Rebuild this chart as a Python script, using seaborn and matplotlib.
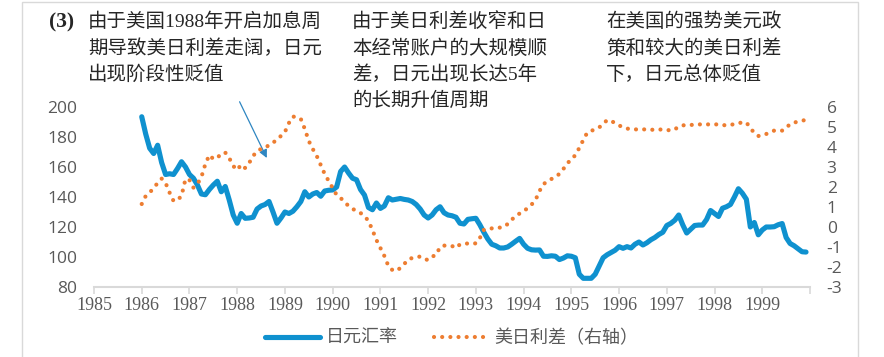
import numpy as np
import pandas as pd
import matplotlib
matplotlib.use("Agg")
import matplotlib.pyplot as plt
import matplotlib.patches as mpatches
from matplotlib.lines import Line2D
import seaborn as sns

# ---------------- data ----------------
start_year = 1986  # monthly data, Jan 1986 .. Dec 1999
jpy_rate = [
    193.5, 182.0, 172.5, 169.0, 174.5, 163.0, 155.0, 155.5, 155.0, 159.0, 163.5, 160.0,   # 1986
    155.0, 152.5, 148.0, 142.0, 141.5, 145.0, 148.0, 150.5, 143.5, 147.0, 138.0, 128.0,   # 1987
    122.5, 129.0, 125.8, 126.0, 126.5, 132.0, 134.0, 135.0, 137.0, 130.0, 122.5, 126.0,   # 1988
    130.0, 129.0, 130.5, 133.5, 137.0, 143.5, 140.0, 142.0, 143.0, 140.5, 144.0, 144.5,   # 1989
    144.7, 146.7, 157.0, 160.0, 156.0, 152.5, 151.5, 145.0, 141.3, 133.0, 131.5, 136.0,   # 1990
    132.4, 134.0, 139.5, 138.0, 138.5, 139.0, 138.4, 138.0, 137.0, 135.0, 132.0, 128.0,   # 1991
    126.0, 128.0, 131.5, 133.5, 129.5, 128.0, 127.5, 126.5, 122.5, 122.0, 125.1, 125.5,   # 1992
    125.8, 121.5, 116.5, 112.0, 108.5, 107.5, 106.0, 106.0, 106.7, 108.5, 110.5, 112.4,   # 1993
    108.5, 105.8, 104.8, 104.6, 104.7, 100.5, 100.4, 100.8, 100.5, 98.3, 99.3, 100.8,     # 1994
    100.5, 99.5, 88.5, 85.8, 85.8, 85.8, 88.5, 94.0, 99.5, 101.5, 103.0, 104.5,           # 1995
    106.9, 105.8, 106.9, 106.0, 108.5, 110.0, 108.0, 109.5, 111.5, 113.0, 115.0, 116.5,   # 1996
    121.0, 122.4, 124.5, 128.0, 121.5, 116.0, 118.5, 121.0, 121.3, 121.3, 125.0, 131.0,   # 1997
    129.0, 127.0, 132.5, 133.5, 135.0, 140.0, 145.5, 142.5, 138.5, 120.0, 123.0, 114.8,   # 1998
    118.0, 120.0, 120.0, 120.2, 121.5, 122.3, 113.0, 109.0, 107.5, 105.5, 103.5, 103.3,   # 1999
]
us_jp_spread = [
    1.15, 1.55, 1.72, 1.95, 2.20, 2.42, 2.20, 1.72, 1.30, 1.35, 1.55, 2.40,   # 1986
    2.35, 1.97, 2.15, 2.50, 3.15, 3.60, 3.40, 3.45, 3.68, 3.72, 3.45, 3.05,   # 1987
    2.85, 3.12, 2.95, 3.20, 3.55, 3.80, 3.90, 3.95, 4.10, 4.20, 4.40, 4.55,   # 1988
    4.75, 5.20, 5.52, 5.50, 5.40, 4.90, 4.30, 3.90, 3.55, 3.10, 2.65, 2.30,   # 1989
    1.95, 1.60, 1.45, 1.25, 1.05, 0.90, 0.82, 0.70, 0.55, 0.30, -0.15, -0.65, # 1990
    -1.05, -1.45, -1.95, -2.15, -2.20, -2.05, -1.85, -1.62, -1.55, -1.50, -1.48, -1.60,  # 1991
    -1.65, -1.48, -1.40, -1.00, -0.93, -0.93, -0.95, -1.05, -0.87, -0.85, -0.82, -0.82,  # 1992
    -0.82, -0.55, -0.15, -0.07, -0.07, -0.07, -0.03, 0.00, 0.15, 0.38, 0.50, 0.68,       # 1993
    0.78, 0.95, 1.12, 1.35, 1.80, 2.15, 2.27, 2.40, 2.52, 2.65, 2.90, 3.20,   # 1994
    3.35, 3.60, 3.95, 4.35, 4.72, 4.80, 4.90, 4.98, 5.15, 5.35, 5.30, 5.20,   # 1995
    5.08, 4.98, 4.92, 4.90, 4.88, 4.88, 4.88, 4.88, 4.87, 4.85, 4.87, 4.88,   # 1996
    4.86, 4.82, 4.88, 5.02, 5.08, 5.10, 5.10, 5.12, 5.13, 5.13, 5.13, 5.13,   # 1997
    5.13, 5.13, 5.10, 5.08, 5.10, 5.15, 5.20, 5.22, 5.23, 4.95, 4.70, 4.55,   # 1998
    4.58, 4.65, 4.75, 4.82, 4.82, 4.82, 4.95, 5.15, 5.22, 5.27, 5.32, 5.35,   # 1999
]
year_ticks = list(range(1985, 2001))
year_labels = [str(y) for y in range(1985, 2000)] + [""]
left_ticks = [80, 100, 120, 140, 160, 180, 200]
right_ticks = [-3, -2, -1, 0, 1, 2, 3, 4, 5, 6]
series_names = ["日元汇率", "美日利差（右轴）"]
notes = [
    ["由于美国1988年开启加息周", "期导致美日利差走阔，日元", "出现阶段性贬值"],
    ["由于美日利差收窄和日", "本经常账户的大规模顺", "差，日元出现长达5年", "的长期升值周期"],
    ["在美国的强势美元政", "策和较大的美日利差", "下，日元总体贬值"],
]

# ---------------- style ----------------
BLUE = "#0F91CF"
ORANGE = "#ED7D31"
GRAY = "#595959"
LIGHT = "#D9D9D9"

sns.set_theme(style="white")
plt.rcParams["font.family"] = ["Liberation Serif", "Noto Sans CJK SC", "DejaVu Sans"]

W, H = 884, 357
fig = plt.figure(figsize=(W / 100, H / 100), dpi=100)
ax = fig.add_axes([94 / W, 1 - 287 / H, (810 - 94) / W, 180 / H])
ax2 = ax.twinx()

t = start_year + np.arange(len(jpy_rate)) / 12.0
df = pd.DataFrame({"t": t, "jpy": jpy_rate, "spread": us_jp_spread})

sns.lineplot(data=df, x="t", y="jpy", ax=ax, color=BLUE, linewidth=3.7,
             solid_capstyle="round", solid_joinstyle="round")
sns.lineplot(data=df, x="t", y="spread", ax=ax2, color=ORANGE, linewidth=3.0,
             linestyle=(0, (0.01, 1.95)), dash_capstyle="round")

ax.set_xlim(1985, 2000)
ax.set_ylim(80, 200)
ax2.set_ylim(-3, 6)
ax.set_xlabel("")
ax.set_ylabel("")
ax2.set_ylabel("")

ax.set_xticks(year_ticks)
ax.set_xticklabels(year_labels, fontsize=13, color=GRAY, family="Liberation Serif")
ax.set_yticks(left_ticks)
ax.set_yticklabels([str(v) for v in left_ticks], fontsize=12.5, color=GRAY, family="Open Sans")
ax2.set_yticks(right_ticks)
ax2.set_yticklabels([str(v) for v in right_ticks], fontsize=12.5, color=GRAY, family="Open Sans")

ax.tick_params(axis="x", length=5, width=1.2, color=LIGHT, pad=2, direction="out", bottom=True)
ax.tick_params(axis="y", length=0, pad=12)
ax2.tick_params(axis="y", length=0, pad=12)

for a in (ax, ax2):
    for s in ("top", "left", "right"):
        a.spines[s].set_visible(False)
    a.spines["bottom"].set_color(LIGHT)
    a.spines["bottom"].set_linewidth(1.5)
    a.grid(False)
    a.set_facecolor("none")
ax2.spines["bottom"].set_visible(False)

# arrow annotation
ax.annotate("", xy=(1988.62, 166), xytext=(1988.05, 203.5),
            arrowprops=dict(arrowstyle="-|>", color="#2E86C1", lw=0.9,
                            mutation_scale=12, shrinkA=0, shrinkB=0),
            annotation_clip=False)

# titles / notes
fig.text(49 / W, 1 - 22 / H, "(3)", fontsize=15.5, fontweight="bold", color="#262626",
         family="Liberation Serif", va="center", ha="left")
note_x = [88, 352, 606]
line_y = [22, 48.5, 75, 101]
for nx, lines in zip(note_x, notes):
    for ly, txt in zip(line_y, lines):
        fig.text(nx / W, 1 - ly / H, txt, fontsize=14, color="#262626",
                 family=["Liberation Serif", "Noto Sans CJK SC"], va="center", ha="left")

# legend
handles = [
    Line2D([0], [0], color=BLUE, linewidth=3.7, solid_capstyle="round"),
    Line2D([0], [0], color=ORANGE, linewidth=3.0, linestyle=(0, (0.01, 1.95)), dash_capstyle="round"),
]
leg = fig.legend(handles, series_names, loc="center", bbox_to_anchor=(452 / W, 1 - 338 / H),
                 ncol=2, frameon=False, handlelength=3.0, handletextpad=0.35,
                 columnspacing=2.0, prop={"family": ["Noto Sans CJK SC"], "size": 13})
for txt in leg.get_texts():
    txt.set_color(GRAY)

# light frame around the figure
fig.patches.append(mpatches.Rectangle((22 / W, -0.05), (858 - 22) / W, 1.05 - 1.5 / H,
                                      transform=fig.transFigure, fill=False,
                                      edgecolor=LIGHT, linewidth=1.0))

fig.savefig("out.png", dpi=100)
